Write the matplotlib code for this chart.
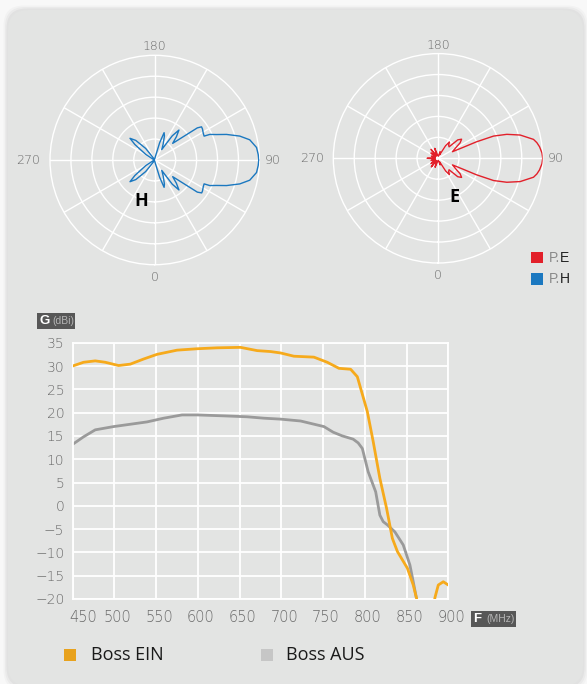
import numpy as np
import matplotlib
matplotlib.use("Agg")
import matplotlib.pyplot as plt
from matplotlib.patches import FancyBboxPatch, Rectangle
from matplotlib.transforms import ScaledTranslation

# ---------------- data ----------------
# H-plane pattern: angle (deg), relative gain (dB)
h_angle = [90, 93, 97, 102, 105.7, 109.6, 112.4, 114.9, 115.8, 119, 123, 125.3, 127, 132.8,
           137, 141, 144, 146, 152, 158, 161, 164, 168, 180, 205, 218, 224, 228.7, 232, 238,
           250, 270, 290, 302, 308, 311.3, 316, 322, 335, 360, 12, 16, 19, 22, 28, 34, 36,
           39, 43, 47.2, 53, 55, 57, 61, 64.2, 65.1, 67.6, 70.4, 74.3, 78, 83, 87, 90]
h_gain = [-0.3, -0.5, -1.0, -3.6, -7.8, -13.6, -18.1, -21.0, -23.8, -23.5, -22.8, -22.6, -24.5, -38.3,
          -34.8, -31.6, -35.7, -44.0, -41.4, -37.6, -36.2, -41.4, -48.0, -49.5, -49.5, -43.0, -37.0, -34.3, -38.0, -45.0,
          -49.5, -49.8, -49.5, -45.0, -38.0, -34.3, -37.0, -43.0, -49.5, -49.5, -48.0, -41.4, -36.2, -37.6, -41.4, -44.0, -35.7,
          -31.6, -34.8, -38.3, -24.5, -22.6, -22.8, -23.5, -23.8, -21.0, -18.1, -13.6, -7.8, -3.6, -1.0, -0.5, -0.3]

# E-plane pattern: angle (deg), relative gain (dB)
e_angle = [90, 93, 96.5, 99, 101.2, 105.8, 109.2, 111.8, 113.2, 113.5, 114.5,
           120, 125, 129, 133, 136, 141, 145, 149, 154, 162,
           170, 185, 198, 208, 218, 225, 233, 242, 252, 262,
           270, 278, 288, 298, 307, 315, 322, 332, 342, 355,
           10, 18, 26, 31, 35, 39, 44, 47, 51, 55,
           60, 65.5, 66.5, 66.8, 68.2, 70.8, 74.2, 78.8, 81, 83.5, 87, 90]
e_gain = [0.0, -0.3, -1.2, -2.2, -3.5, -9.2, -15.2, -21.4, -30.0, -36.7, -42.4,
          -40.5, -37.1, -35.5, -37.1, -42.4, -41.9, -40.5, -42.9, -48.1, -46.7,
          -49.0, -48.6, -45.0, -48.6, -44.6, -48.6, -45.8, -48.6, -46.7, -48.6,
          -44.8, -48.6, -46.5, -48.6, -45.8, -48.6, -44.8, -48.6, -45.5, -48.6,
          -49.0, -46.7, -48.1, -42.9, -40.5, -41.9, -42.4, -37.1, -35.5, -37.1,
          -40.5, -42.4, -36.7, -30.0, -21.4, -15.2, -9.2, -3.5, -2.2, -1.2, -0.3, 0.0]

# Gain vs frequency
freq_ein = [450, 463, 477, 489, 505, 519, 535, 551, 575, 599, 623, 651, 671, 687, 699, 715, 739,
            755, 769, 783, 791, 795, 803, 810, 818, 826, 833, 839, 851, 858, 862, 868, 876, 882,
            884, 888, 894, 900]
gain_ein = [30.0, 30.8, 31.1, 30.8, 30.1, 30.4, 31.5, 32.5, 33.4, 33.7, 33.9, 34.0, 33.3, 33.1, 32.8, 32.1, 31.9,
            30.8, 29.5, 29.3, 27.7, 25.2, 20.2, 13.8, 5.9, -0.5, -7.0, -9.8, -13.4, -17.0, -19.9, -24.0, -26.0, -22.0,
            -19.7, -17.0, -16.3, -17.0]
freq_aus = [450, 463, 477, 499, 519, 539, 559, 581, 599, 631, 659, 679, 699, 723, 751, 762, 773, 786,
            792, 797, 804, 813, 818, 822, 827, 836, 846, 854, 858, 862, 866]
gain_aus = [13.2, 14.8, 16.3, 17.0, 17.5, 18.0, 18.8, 19.5, 19.5, 19.3, 19.1, 18.8, 18.6, 18.2, 17.0, 15.8, 15.0, 14.3,
            13.5, 12.3, 7.3, 3.0, -2.0, -3.4, -4.1, -5.6, -8.4, -12.7, -16.3, -20.0, -24.0]

x_ticks = [450, 500, 550, 600, 650, 700, 750, 800, 850, 900]
y_ticks = [-20, -15, -10, -5, 0, 5, 10, 15, 20, 25, 30, 35]
polar_ticks = [0, 90, 180, 270]
polar_rings = [-40, -30, -20, -10]
series_names = ["Boss EIN", "Boss AUS"]
pattern_names = ["E", "H"]

# ---------------- style ----------------
PANEL = "#e3e4e3"
OUTER = "#f8f8f8"
ORANGE = "#f6aa1c"
GRAY = "#9a9a9a"
RED = "#e2202a"
BLUE = "#1b78c0"
TXT = "#6a6a6a"
TICKFONT = ["DejaVu Sans"]
TAGFONT = ["Liberation Sans", "DejaVu Sans"]
W, H = 587, 684

fig = plt.figure(figsize=(W / 100, H / 100), dpi=100)
fig.patch.set_facecolor(OUTER)

# soft shadow + panel (behind everything)
for i, a in enumerate([0.025, 0.03, 0.035]):
    grow = (3 - i) * 0.015
    fig.patches.append(FancyBboxPatch((0.08 - grow, -0.02 - grow), 5.75 + 2 * grow, 6.76 + 2 * grow,
                                      boxstyle="round,pad=0,rounding_size=0.2",
                                      transform=fig.dpi_scale_trans, fc="black", ec="none",
                                      alpha=a, zorder=-3))
fig.patches.append(FancyBboxPatch((0.08, -0.02), 5.75, 6.76, boxstyle="round,pad=0,rounding_size=0.2",
                                  transform=fig.dpi_scale_trans, fc=PANEL, ec="none", zorder=-2))


def px_rect(x0, y0, x1, y1):
    return [x0 / W, 1 - y1 / H, (x1 - x0) / W, (y1 - y0) / H]


def polar_plot(rect, angles, gains, color, letter, letter_xy, offsets):
    ax = fig.add_axes(rect, projection="polar")
    ax.set_theta_zero_location("S")
    ax.set_theta_direction(1)
    ax.set_facecolor("none")
    ax.set_ylim(-50, 0)
    ax.set_yticks(polar_rings)
    ax.set_yticklabels([])
    ax.set_xticks(np.deg2rad(np.arange(0, 360, 30)))
    ax.set_xticklabels([])
    ax.tick_params(length=0)
    ax.grid(True, color="white", lw=1.0)
    ax.spines["polar"].set_color("white")
    ax.spines["polar"].set_linewidth(1.0)
    ax.plot(np.deg2rad(angles), gains, color=color, lw=1.0, zorder=3)
    for t, off in zip(polar_ticks, offsets):
        ax.text(np.deg2rad(t), off, str(t), ha="center", va="center", color=TXT,
                fontsize=9, family=TICKFONT, fontweight="light", clip_on=False)
    fig.text(letter_xy[0] / W, 1 - letter_xy[1] / H, letter, ha="center", va="center",
             fontsize=13, fontweight="bold", family=["Open Sans", "DejaVu Sans"], color="black")
    return ax


polar_plot(px_rect(50, 55.3, 259.4, 264.7), h_angle, h_gain, BLUE, pattern_names[1], (141.7, 201),
           [5.7, 6.3, 4.3, 10.3])
polar_plot(px_rect(333.3, 53.6, 542.7, 263), e_angle, e_gain, RED, pattern_names[0], (454.3, 197.5),
           [5.7, 6.3, 4.3, 10.3])

# pattern legend (top right)
for (col, name, y0, y1) in [(RED, pattern_names[0], 252, 263), (BLUE, pattern_names[1], 273, 285)]:
    fig.patches.append(Rectangle((531 / W, 1 - y1 / H), 12 / W, (y1 - y0) / H, transform=fig.transFigure,
                                 fc=col, ec="none"))
    yc = 1 - (y0 + y1) / 2 / H
    fig.text(549 / W, yc, "P.", ha="left", va="center", fontsize=10, color="#8a8a8a", family=TAGFONT)
    fig.text(559.5 / W, yc, name, ha="left", va="center", fontsize=10, color="#222222", family=TAGFONT)

# ---------------- gain chart ----------------
ax = fig.add_axes(px_rect(72.7, 342.7, 448.3, 599))
ax.set_facecolor("none")
ax.plot(freq_ein, gain_ein, color=ORANGE, lw=2.0, solid_capstyle="round", zorder=3)
ax.plot(freq_aus, gain_aus, color=GRAY, lw=2.0, solid_capstyle="round", zorder=2)
ax.set_xlim(450, 900)
ax.set_ylim(-20, 35)
ax.set_xticks(x_ticks)
ax.set_yticks(y_ticks)
ax.grid(True, color="white", lw=1.3, zorder=1)
ax.set_axisbelow(True)
for s in ax.spines.values():
    s.set_color("white")
    s.set_linewidth(1.3)
ax.tick_params(length=0, colors=TXT)
ax.tick_params(axis="y", pad=6, labelsize=10)
ax.tick_params(axis="x", pad=8, labelsize=10.5)
for lab in ax.get_yticklabels() + ax.get_xticklabels():
    lab.set_family(TICKFONT)
    lab.set_fontweight("light")
for i, lab in enumerate(ax.get_xticklabels()):
    dx = 10 if i == 0 else 3
    lab.set_transform(lab.get_transform() + ScaledTranslation(dx / 100, 0, fig.dpi_scale_trans))


def tag_box(x0, y0, x1, y1, big, small):
    fig.patches.append(Rectangle((x0 / W, 1 - y1 / H), (x1 - x0) / W, (y1 - y0) / H,
                                 transform=fig.transFigure, fc="#575757", ec="none"))
    yc = 1 - (y0 + y1) / 2 / H
    fig.text((x0 + 2) / W, yc, big, ha="left", va="center", fontsize=9.5, color="white",
             fontweight="bold", family=TAGFONT)
    fig.text((x1 - 1) / W, yc, small, ha="right", va="center", fontsize=7.5, color="#b5b5b5",
             family=TAGFONT)


tag_box(37, 313, 75, 329, "G", "(dBi)")
tag_box(471, 611, 516, 627, "F", "(MHz)")

# bottom legend
for (col, name, xs, xt) in [("#e8a21e", series_names[0], 64, 91), ("#c6c6c6", series_names[1], 261, 286)]:
    fig.patches.append(Rectangle((xs / W, 1 - 661 / H), 12 / W, 12 / H, transform=fig.transFigure,
                                 fc=col, ec="none"))
    fig.text(xt / W, 1 - 655 / H, name, ha="left", va="center", fontsize=13, color="#1a1a1a",
             family=["Open Sans", "DejaVu Sans"])

fig.savefig("out.png", dpi=100, facecolor=fig.get_facecolor())
